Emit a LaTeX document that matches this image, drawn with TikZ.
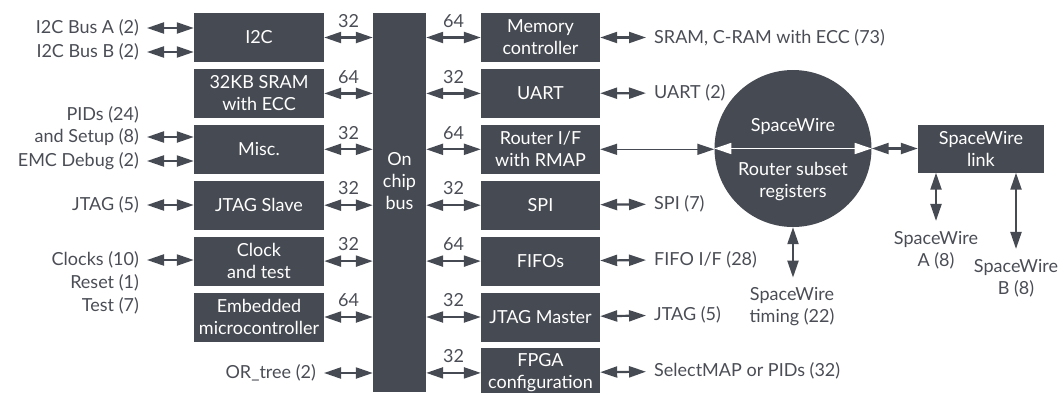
\documentclass[tikz,border=0pt]{standalone}
\usepackage{fontspec}
\setmainfont{Lato}
\usetikzlibrary{positioning,arrows.meta}
\definecolor{boxgray}{HTML}{464A52}
\definecolor{labgray}{HTML}{4A4D55}

\begin{document}
\begin{tikzpicture}[
    x=1pt, y=-1pt,
    font=\fontsize{18}{22}\selectfont,
    node distance=6.5pt,
    block/.style={fill=boxgray, text=white, minimum width=130pt, minimum height=49pt, inner sep=0pt, align=center},
    rblock/.style={block, minimum width=119pt},
    io/.style={text=labgray, inner xsep=8pt, inner ysep=2pt},
    drop/.style={text=labgray, align=center, inner sep=2pt},
    buslab/.style={text=labgray, inner sep=1pt, above=8pt},
    conn/.style={{Triangle[length=17pt,width=11pt]}-{Triangle[length=17pt,width=11pt]}, line width=2.2pt, draw=boxgray},
    thinconn/.style={conn, line width=1.5pt}
]
\useasboundingbox (0,0) rectangle (1058,392);

% left column
\node[block] (i2c) at (259,37.5) {I2C};
\node[block, below=of i2c] (sram) {32KB SRAM\\with ECC};
\node[block, below=of sram] (misc) {Misc.};
\node[block, below=of misc] (jslave) {JTAG Slave};
\node[block, below=of jslave] (clock) {Clock\\and test};
\node[block, below=of clock] (embed) {Embedded\\microcontroller};

% bus
\node[fill=boxgray, minimum width=53pt, minimum height=379pt, inner sep=0pt,
      label={[text=white, align=center, yshift=21pt]center:On\\chip\\bus}] (bus) at (399.5,202.5) {};

% right column
\node[rblock] (memctl) at (540.5,37.5) {Memory\\controller};
\node[rblock, below=of memctl] (uart) {UART};
\node[rblock, below=of uart] (router) {Router I/F\\with RMAP};
\node[rblock, below=of router] (spi) {SPI};
\node[rblock, below=of spi] (fifo) {FIFOs};
\node[rblock, below=of fifo] (jmaster) {JTAG Master};
\node[rblock, below=of jmaster] (fpga) {FPGA\\configuration};

% spacewire router and link
\node[circle, fill=boxgray, minimum size=157pt, inner sep=0pt,
      label={[text=white, yshift=22pt]center:SpaceWire},
      label={[text=white, align=center, yshift=-33pt]center:Router subset\\registers}] (swr) at (793,148.5) {};
\node[fill=boxgray, text=white, minimum width=126pt, minimum height=48pt, inner sep=0pt, align=center] (link) at (981,148.5) {SpaceWire\\link};

% outside signals, left
\node[io, anchor=east] (busa) at (147,28) {I2C Bus A (2)};
\node[io, anchor=east] (busb) at (147,52) {I2C Bus B (2)};
\node[io, anchor=east] (pids) at (147,115) {PIDs (24)};
\node[io, anchor=east] (setup) at (147,137) {and Setup (8)};
\node[io, anchor=east] (emc) at (147,161) {EMC Debug (2)};
\node[io, anchor=east] (jtags) at (147,205) {JTAG (5)};
\node[io, anchor=east] (clocks) at (147,260) {Clocks (10)};
\node[io, anchor=east] (reset) at (147,283) {Reset (1)};
\node[io, anchor=east] (test) at (147,306) {Test (7)};
\node[io, anchor=east] (ortree) at (324,373) {OR\_tree (2)};

% outside signals, right
\node[io, anchor=west] (sram-io) at (646,37.5) {SRAM, C-RAM with ECC (73)};
\node[io, anchor=west] (uart-io) at (646,93) {UART (2)};
\node[io, anchor=west] (spi-io) at (646,204) {SPI (7)};
\node[io, anchor=west] (fifo-io) at (646,259.5) {FIFO I/F (28)};
\node[io, anchor=west] (jtagm-io) at (646,315) {JTAG (5)};
\node[io, anchor=west] (fpga-io) at (646,370.5) {SelectMAP or PIDs (32)};

\node[drop] (swt) at (792,307) {SpaceWire\\timing (22)};
\node[drop] (swa) at (936,250) {SpaceWire\\A (8)};
\node[drop] (swb) at (1016,278) {SpaceWire\\B (8)};

% left side
\draw[conn] (busa) -- (busa -| i2c.west);
\draw[conn] (busb) -- (busb -| i2c.west);
\draw[conn] (setup) -- (setup -| misc.west);
\draw[conn] (emc) -- (emc -| misc.west);
\draw[conn] (jtags) -- (jtags -| jslave.west);
\draw[conn] (clocks) -- (clocks -| clock.west);

% to the bus
\draw[conn] (i2c) -- (i2c -| bus.west) node[midway, buslab] {32};
\draw[conn] (sram) -- (sram -| bus.west) node[midway, buslab] {64};
\draw[conn] (misc) -- (misc -| bus.west) node[midway, buslab] {32};
\draw[conn] (jslave) -- (jslave -| bus.west) node[midway, buslab] {32};
\draw[conn] (clock) -- (clock -| bus.west) node[midway, buslab] {32};
\draw[conn] (embed) -- (embed -| bus.west) node[midway, buslab] {64};
\draw[conn] (ortree) -- (ortree -| bus.west);
\draw[conn] (memctl -| bus.east) -- (memctl) node[midway, buslab] {64};
\draw[conn] (uart -| bus.east) -- (uart) node[midway, buslab] {32};
\draw[conn] (router -| bus.east) -- (router) node[midway, buslab] {64};
\draw[conn] (spi -| bus.east) -- (spi) node[midway, buslab] {32};
\draw[conn] (fifo -| bus.east) -- (fifo) node[midway, buslab] {64};
\draw[conn] (jmaster -| bus.east) -- (jmaster) node[midway, buslab] {32};
\draw[conn] (fpga -| bus.east) -- (fpga) node[midway, buslab] {32};

% right side
\draw[conn] (memctl) -- (sram-io);
\draw[conn] (uart) -- (uart-io);
\draw[conn] (spi) -- (spi-io);
\draw[conn] (fifo) -- (fifo-io);
\draw[conn] (jmaster) -- (jtagm-io);
\draw[conn] (fpga) -- (fpga-io);

% spacewire
\draw[thinconn] (router) -- (router -| swr.west);
\draw[thinconn, draw=white] (swr.west) -- (swr.east);
\draw[conn] (swr.east) -- (link.west);
\draw[conn, shorten >=8pt] (swr.south) -- (swr.south |- swt.north);
\draw[conn, shorten >=8pt] (link.south -| swa.north) -- (swa.north);
\draw[conn, shorten >=8pt] (link.south -| swb.north) -- (swb.north);
\end{tikzpicture}
\end{document}
